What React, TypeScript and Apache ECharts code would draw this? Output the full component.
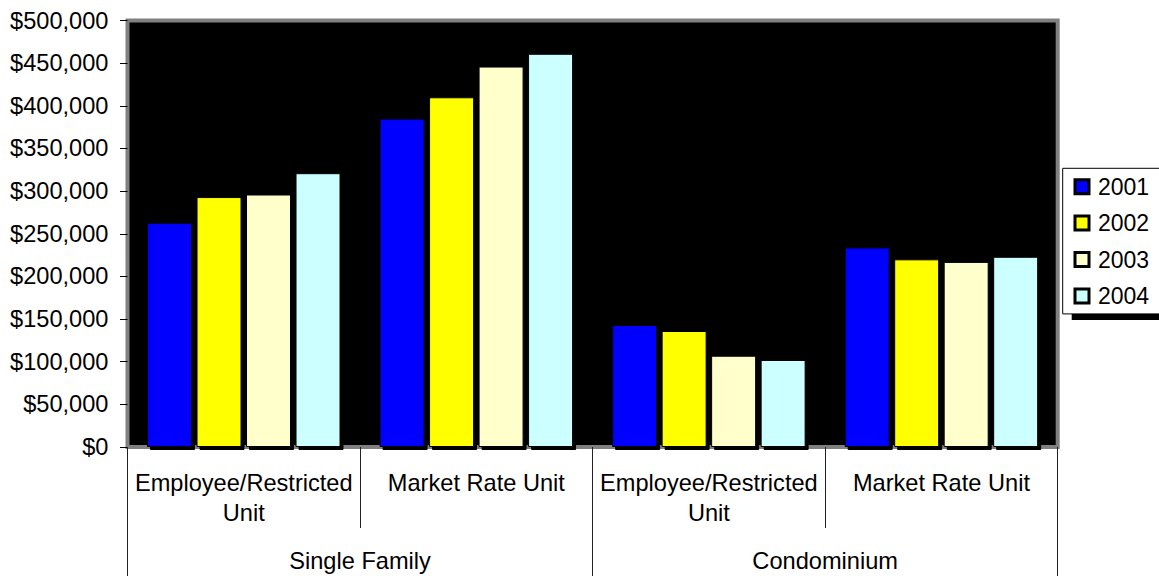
import React, { useEffect, useRef } from "react";
import * as echarts from "echarts";

// Unit types (inner level) and housing types (outer level) of the category axis
const unitTypes = [
  "Employee/Restricted\nUnit",
  "Market Rate Unit",
  "Employee/Restricted\nUnit",
  "Market Rate Unit",
];
const housingTypes = ["Single Family", "Condominium"];

const years = ["2001", "2002", "2003", "2004"];
const yearColors = ["#0000FF", "#FFFF00", "#FFFFCC", "#CCFFFF"];

// Median prices, in the order of unitTypes
const prices2001 = [263000, 385000, 143000, 234000];
const prices2002 = [293000, 410000, 136000, 220000];
const prices2003 = [296000, 446000, 107000, 217000];
const prices2004 = [321000, 461000, 102000, 223000];
const pricesByYear = [prices2001, prices2002, prices2003, prices2004];

const FONT = "'Liberation Sans', Arial, Helvetica, sans-serif";
const FONT_SIZE = 23.6;

export default function App() {
  const ref = useRef<HTMLDivElement>(null);

  useEffect(() => {
    if (!ref.current) return;
    const chart = echarts.init(ref.current, undefined, { renderer: "svg" });

    const series = years.map((y, i) => ({
      name: y,
      type: "bar" as const,
      xAxisIndex: 0,
      yAxisIndex: 0,
      data: pricesByYear[i],
      barWidth: 45,
      barGap: "10%",
      itemStyle: {
        color: yearColors[i],
        borderColor: "#000",
        borderWidth: 1,
        shadowColor: "#000",
        shadowOffsetX: 3,
        shadowOffsetY: 3,
        shadowBlur: 0,
      },
    }));

    chart.setOption({
      animation: false,
      textStyle: { fontFamily: FONT },
      grid: {
        left: 127.5,
        right: 101.3,
        top: 20.5,
        bottom: 129,
        show: true,
        backgroundColor: "#000",
        borderColor: "#808080",
        borderWidth: 4,
        containLabel: false,
      },
      legend: {
        orient: "vertical",
        left: 1062.7,
        top: 168.3,
        data: years,
        icon: "rect",
        itemWidth: 14,
        itemHeight: 14,
        itemGap: 12.4,
        padding: [6.4, 20, 6, 10.8],
        backgroundColor: "#fff",
        borderColor: "#000",
        borderWidth: 1,
        itemStyle: { borderColor: "#000", borderWidth: 3 },
        textStyle: {
          fontFamily: FONT,
          fontSize: 23,
          lineHeight: 24,
          color: "#000",
          padding: [0, 0, 0, 4],
        },
        selectedMode: false,
      },
      graphic: [
        {
          type: "rect",
          z: 1,
          shape: { x: 1071.7, y: 178, width: 100, height: 142 },
          style: { fill: "#000" },
        },
      ],
      xAxis: [
        {
          type: "category",
          data: unitTypes,
          position: "bottom",
          axisLine: { show: false },
          axisTick: {
            show: true,
            length: 81,
            lineStyle: { color: "#222", width: 1 },
          },
          axisLabel: {
            interval: 0,
            margin: 20.7,
            fontFamily: FONT,
            fontSize: FONT_SIZE,
            lineHeight: 30,
            color: "#000",
            align: "center",
          },
        },
        {
          type: "category",
          data: housingTypes,
          position: "bottom",
          axisLine: { show: false },
          axisTick: {
            show: true,
            length: 129,
            lineStyle: { color: "#222", width: 1 },
          },
          axisLabel: {
            interval: 0,
            margin: 98.7,
            fontFamily: FONT,
            fontSize: FONT_SIZE,
            lineHeight: 30,
            color: "#000",
          },
        },
      ],
      yAxis: {
        type: "value",
        min: 0,
        max: 500000,
        interval: 50000,
        axisLine: { show: false },
        splitLine: { show: false },
        axisTick: {
          show: true,
          length: 7.5,
          lineStyle: { color: "#000", width: 1 },
        },
        axisLabel: {
          margin: 19,
          fontFamily: FONT,
          fontSize: FONT_SIZE,
          color: "#000",
          formatter: (v: number) => "$" + v.toLocaleString("en-US"),
        },
      },
      series,
    });

    return () => chart.dispose();
  }, []);

  return (
    <div
      ref={ref}
      style={{ position: "absolute", left: 0, top: 0, width: 1159, height: 576 }}
    />
  );
}
